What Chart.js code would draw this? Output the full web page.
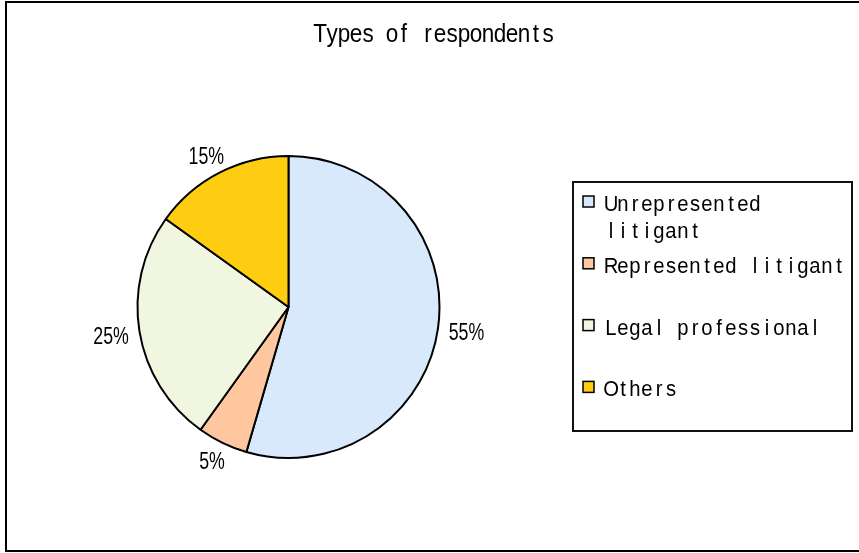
<!DOCTYPE html>
<html>
<head>
<meta charset="utf-8">
<script src="https://cdn.jsdelivr.net/npm/chart.js@4/dist/chart.umd.min.js"></script>
<style>
  html, body { margin: 0; padding: 0; background: #ffffff; }
  #c { display: block; }
</style>
</head>
<body>
<canvas id="c" width="859" height="553"></canvas>
<script>
// ---- data ----
const chartTitle = "Types of respondents";
const categories = ["Unrepresented litigant", "Represented litigant", "Legal professional", "Others"];
const shares = [54.5, 5.4, 25.0, 15.1];
const sliceColors = ["#D8E9FC", "#FEC79F", "#F1F6E0", "#FECC11"];

// ---- helpers ----
const FONT = '"Liberation Sans", Arial, sans-serif';
function drawMono(ctx, text, x, y, cell, size, sx) {
  ctx.font = size + 'px ' + FONT;
  ctx.textAlign = 'center';
  ctx.textBaseline = 'alphabetic';
  for (let i = 0; i < text.length; i++) {
    const ch = text[i];
    if (ch === ' ') continue;
    ctx.save();
    ctx.translate(x + i * cell + cell / 2, y);
    ctx.scale(sx, 1);
    ctx.fillText(ch, 0, 0);
    ctx.restore();
  }
}
function wrapMono(text, cell, maxW) {
  const words = text.split(' ');
  const lines = [];
  let cur = '';
  for (const w of words) {
    const t = cur ? cur + ' ' + w : w;
    if (t.length * cell > maxW && cur) { lines.push(cur); cur = w; }
    else cur = t;
  }
  if (cur) lines.push(cur);
  return lines;
}

const decor = {
  id: 'decor',
  afterDraw(chart) {
    const ctx = chart.ctx;
    ctx.save();
    ctx.fillStyle = '#000';
    ctx.strokeStyle = '#000';
    // outer frame
    ctx.lineWidth = 2;
    ctx.strokeRect(6, 2, 870, 549);

    // title
    const cell = 12;
    const tw = chartTitle.length * cell;
    drawMono(ctx, chartTitle, 434 - tw / 2, 42, cell, 25, 0.9);

    // legend box
    const box = { l: 573, t: 182, r: 852, b: 431 };
    ctx.lineWidth = 2;
    ctx.strokeStyle = '#111';
    ctx.strokeRect(box.l, box.t, box.r - box.l, box.b - box.t);
    const textX = box.l + 32;
    const maxW = box.r - textX - 5;
    const slot = 61.8;
    categories.forEach((name, i) => {
      const base = box.t + 29 + i * slot;
      ctx.fillStyle = sliceColors[i];
      ctx.fillRect(box.l + 10, base - 15, 11, 11);
      ctx.lineWidth = 1.5;
      ctx.strokeStyle = '#000';
      ctx.strokeRect(box.l + 10, base - 15, 11, 11);
      ctx.fillStyle = '#000';
      const lines = wrapMono(name, cell, maxW);
      lines.forEach((ln, k) => drawMono(ctx, ln, textX, base + k * 27, cell, 22, 0.92));
    });

    // percentage labels
    const meta = chart.getDatasetMeta(0);
    const total = shares.reduce((a, b) => a + b, 0);
    ctx.font = '24px ' + FONT;
    meta.data.forEach((arc, i) => {
      const p = arc.getProps(['x', 'y', 'startAngle', 'endAngle', 'outerRadius'], true);
      const mid = (p.startAngle + p.endAngle) / 2;
      const dx = Math.cos(mid), dy = Math.sin(mid);
      const label = Math.round(shares[i] / total * 100) + '%';
      const w = ctx.measureText(label).width * 0.74;
      const h = 17;
      const ax = p.x + (p.outerRadius + 11) * dx;
      const ay = p.y + (p.outerRadius + 11) * dy;
      const cx = ax + dx * w / 2;
      const cy = ay + dy * h / 2 + 9;
      ctx.save();
      ctx.translate(cx, cy);
      ctx.scale(0.74, 1);
      ctx.textAlign = 'center';
      ctx.textBaseline = 'alphabetic';
      ctx.fillStyle = '#000';
      ctx.fillText(label, 0, 0);
      ctx.restore();
    });
    ctx.restore();
  }
};

new Chart(document.getElementById('c'), {
  type: 'pie',
  data: {
    labels: categories,
    datasets: [{
      data: shares,
      backgroundColor: sliceColors,
      borderColor: '#000',
      borderWidth: 2,
      borderAlign: 'center'
    }]
  },
  options: {
    responsive: false,
    animation: false,
    radius: 151,
    layout: { padding: { left: 137.5, right: 419.5, top: 156, bottom: 95 } },
    plugins: {
      legend: { display: false },
      title: { display: false },
      tooltip: { enabled: false }
    }
  },
  plugins: [decor]
});
</script>
</body>
</html>
